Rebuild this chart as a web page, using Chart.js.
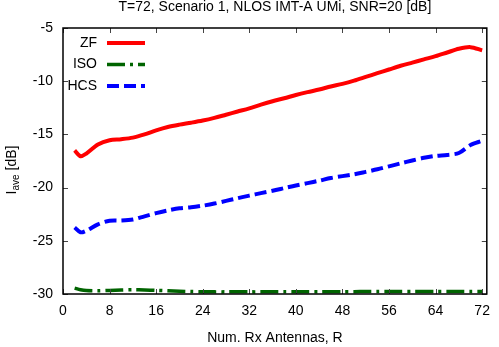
<!DOCTYPE html>
<html>
<head>
<meta charset="utf-8">
<script src="https://cdn.jsdelivr.net/npm/chart.js@4.4.1/dist/chart.umd.min.js"></script>
<style>
  html, body { margin: 0; padding: 0; background: #fff; }
  #wrap { width: 499px; height: 347px; }
</style>
</head>
<body>
<div id="wrap"><canvas id="chart" width="499" height="347"></canvas></div>
<script>
// Number of receive antennas R (x values)
const rxAntennas = [2, 3, 4, 6, 8, 10, 12, 14, 16, 18, 20, 22, 24, 26, 28, 30, 32, 34, 36,
  38, 40, 42, 44, 46, 48, 50, 52, 54, 56, 58, 60, 62, 64, 66, 68, 70, 72];

// I_ave [dB] per scheme
const zfIave = [-16.5, -17.05, -16.8, -15.95, -15.55, -15.45, -15.3, -15.0, -14.62, -14.3,
  -14.08, -13.9, -13.7, -13.45, -13.15, -12.85, -12.55, -12.2, -11.88, -11.6, -11.3,
  -11.03, -10.78, -10.5, -10.25, -9.95, -9.6, -9.25, -8.9, -8.55, -8.25, -7.95, -7.65,
  -7.3, -6.95, -6.8, -7.1];
const isoIave = [-29.45, -29.6, -29.68, -29.7, -29.66, -29.62, -29.6, -29.62, -29.66, -29.7,
  -29.74, -29.77, -29.79, -29.8, -29.8, -29.8, -29.8, -29.8, -29.79, -29.79, -29.79,
  -29.78, -29.78, -29.78, -29.78, -29.78, -29.77, -29.77, -29.77, -29.76, -29.76, -29.76,
  -29.76, -29.76, -29.76, -29.76, -29.76];
const hcsIave = [-23.75, -24.2, -24.05, -23.45, -23.12, -23.1, -23.0, -22.7, -22.4, -22.15,
  -21.95, -21.85, -21.7, -21.5, -21.25, -21.0, -20.75, -20.52, -20.3, -20.05, -19.8,
  -19.58, -19.35, -19.1, -18.92, -18.75, -18.52, -18.28, -18.0, -17.72, -17.45, -17.2,
  -17.02, -16.93, -16.75, -16.0, -15.6];

const seriesNames = ['ZF', 'ISO', 'HCS'];

const FONT = '"Liberation Sans", Arial, Helvetica, sans-serif';
const INK = '#000';

function points(ys) {
  return rxAntennas.map(function (x, i) { return { x: x, y: ys[i] }; });
}

// gnuplot-like frame: box border, inward ticks on all sides, titles and key
const gnuplotFrame = {
  id: 'gnuplotFrame',
  afterDraw: function (chart) {
    const ctx = chart.ctx;
    const a = chart.chartArea;
    const xs = chart.scales.x;
    const ys = chart.scales.y;
    ctx.save();

    // inward ticks
    ctx.strokeStyle = '#444';
    ctx.lineWidth = 1;
    ctx.beginPath();
    xs.ticks.forEach(function (t) {
      const px = Math.round(xs.getPixelForValue(t.value)) + 0.5;
      ctx.moveTo(px, a.bottom); ctx.lineTo(px, a.bottom - 5);
      ctx.moveTo(px, a.top); ctx.lineTo(px, a.top + 5);
    });
    ys.ticks.forEach(function (t) {
      const py = Math.round(ys.getPixelForValue(t.value)) + 0.5;
      ctx.moveTo(a.left, py); ctx.lineTo(a.left + 5, py);
      ctx.moveTo(a.right, py); ctx.lineTo(a.right - 5, py);
    });
    ctx.stroke();

    // border
    ctx.strokeStyle = INK;
    ctx.lineWidth = 1.5;
    ctx.strokeRect(a.left, a.top, a.right - a.left, a.bottom - a.top);

    // main title
    ctx.fillStyle = INK;
    ctx.font = '14px ' + FONT;
    ctx.textAlign = 'center';
    ctx.textBaseline = 'middle';
    ctx.fillText('T=72, Scenario 1, NLOS IMT-A UMi, SNR=20 [dB]', (a.left + a.right) / 2, 7);

    // y axis title with subscript
    const main = '14px ' + FONT;
    const sub = '10px ' + FONT;
    ctx.font = main; const wI = ctx.measureText('I').width;
    ctx.font = sub; const wSub = ctx.measureText('ave').width;
    ctx.font = main; const wRest = ctx.measureText(' [dB]').width;
    const total = wI + wSub + wRest;
    ctx.translate(15.5, (a.top + a.bottom) / 2 + 9);
    ctx.rotate(-Math.PI / 2);
    ctx.textAlign = 'left';
    ctx.textBaseline = 'alphabetic';
    let cx = -total / 2;
    ctx.font = main; ctx.fillText('I', cx, 0); cx += wI;
    ctx.font = sub; ctx.fillText('ave', cx, 3.5); cx += wSub;
    ctx.font = main; ctx.fillText(' [dB]', cx, 0);
    ctx.setTransform(1, 0, 0, 1, 0, 0);

    // key
    ctx.font = '14px ' + FONT;
    ctx.textAlign = 'right';
    ctx.textBaseline = 'middle';
    chart.data.datasets.forEach(function (ds, i) {
      const y = a.top + 15 + i * 21.5;
      ctx.fillStyle = INK;
      ctx.fillText(ds.label, a.left + 34, y);
      ctx.strokeStyle = ds.borderColor;
      ctx.lineWidth = ds.borderWidth;
      ctx.setLineDash(ds.borderDash || []);
      ctx.beginPath();
      ctx.moveTo(a.left + 44, y);
      ctx.lineTo(a.left + 82, y);
      ctx.stroke();
    });
    ctx.setLineDash([]);
    ctx.restore();
  }
};

new Chart(document.getElementById('chart').getContext('2d'), {
  type: 'line',
  data: {
    datasets: [
      {
        label: seriesNames[0],
        data: points(zfIave),
        borderColor: '#ff0000',
        borderWidth: 4,
        tension: 0.3
      },
      {
        label: seriesNames[1],
        data: points(isoIave),
        borderColor: '#006400',
        borderWidth: 3.5,
        borderDash: [18, 5, 3, 5],
        tension: 0.3
      },
      {
        label: seriesNames[2],
        data: points(hcsIave),
        borderColor: '#0000ff',
        borderWidth: 4,
        borderDash: [12, 5],
        tension: 0.3
      }
    ]
  },
  options: {
    responsive: false,
    animation: false,
    events: [],
    layout: { padding: { left: 0, right: 5.5, top: 28, bottom: 0 } },
    elements: { point: { radius: 0 }, line: { fill: false, borderCapStyle: 'butt' } },
    plugins: {
      legend: { display: false },
      title: { display: false },
      tooltip: { enabled: false }
    },
    scales: {
      x: {
        type: 'linear',
        min: 0,
        max: 72.8,
        grid: { display: false, drawTicks: false },
        border: { display: false },
        ticks: {
          stepSize: 8,
          includeBounds: false,
          autoSkip: false,
          maxRotation: 0,
          padding: 9,
          color: INK,
          font: { family: FONT, size: 14 }
        },
        title: {
          display: true,
          text: 'Num. Rx Antennas, R',
          color: INK,
          font: { family: FONT, size: 14 },
          padding: { top: 0, bottom: 0 }
        },
        afterFit: function (s) { s.height = 53; }
      },
      y: {
        type: 'linear',
        min: -30,
        max: -5,
        grid: { display: false, drawTicks: false },
        border: { display: false },
        ticks: {
          stepSize: 5,
          padding: 10,
          color: INK,
          font: { family: FONT, size: 14 }
        },
        afterFit: function (s) { s.width = 63; }
      }
    }
  },
  plugins: [gnuplotFrame]
});
</script>
</body>
</html>
